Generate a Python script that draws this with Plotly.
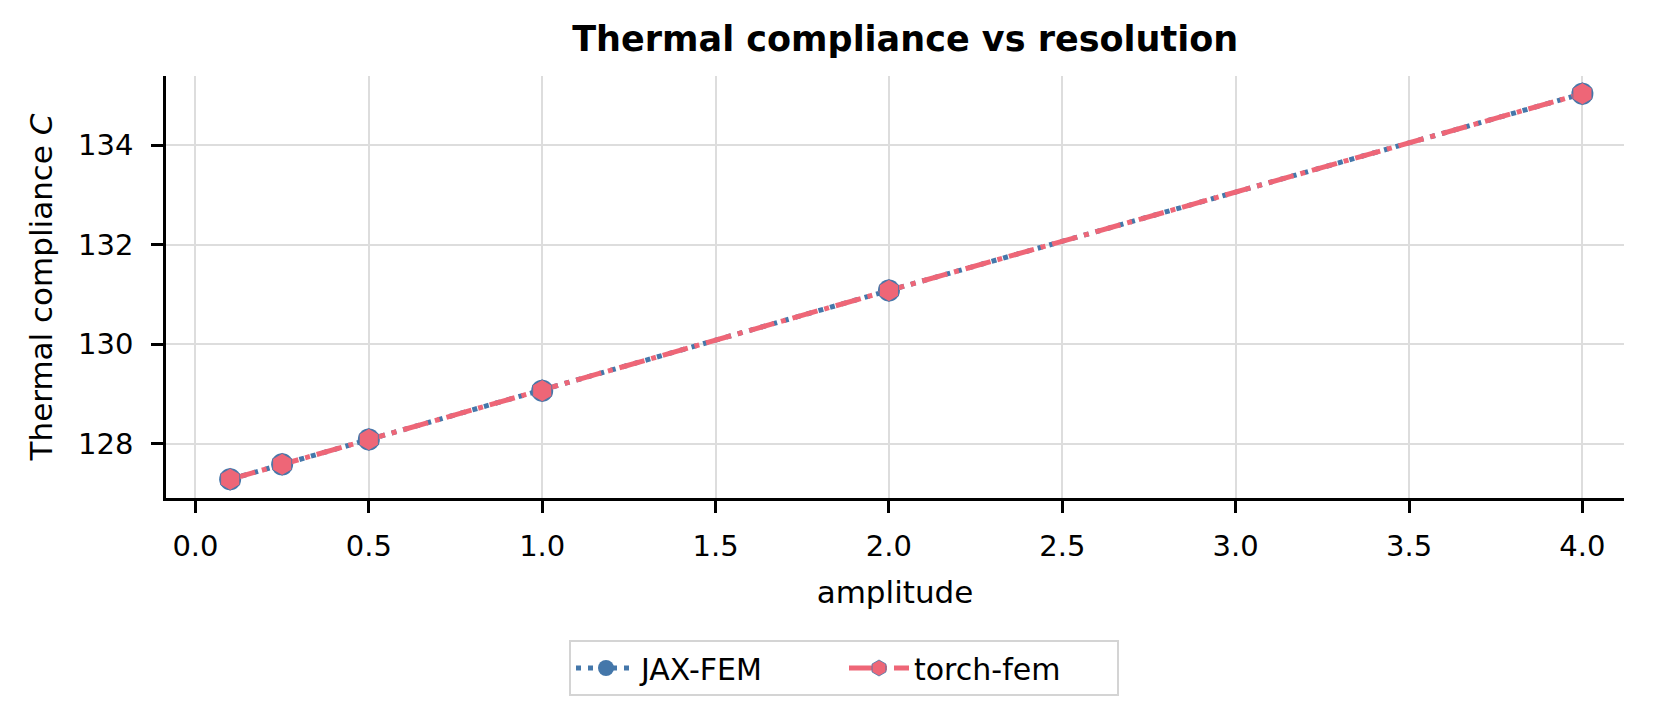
import plotly.graph_objects as go

amplitude = [0.1, 0.25, 0.5, 1.0, 2.0, 4.0]
jax_fem = [127.29, 127.59, 128.09, 129.07, 131.08, 135.03]
torch_fem = [127.29, 127.59, 128.09, 129.07, 131.08, 135.03]

BLUE = "#4477AA"
PINK = "#EE6677"
FONT = "DejaVu Sans"

fig = go.Figure()
fig.add_trace(go.Scatter(
    x=amplitude, y=jax_fem, name="JAX-FEM",
    mode="lines+markers",
    line=dict(color=BLUE, width=5, dash="5px,7px"),
    marker=dict(symbol="circle", size=22, color=BLUE),
))
fig.add_trace(go.Scatter(
    x=amplitude, y=torch_fem, name="torch-fem",
    mode="lines+markers",
    line=dict(color=PINK, width=5, dash="26px,7px,5px,7px"),
    marker=dict(symbol="hexagon", size=22, color=PINK,
                line=dict(width=0.8, color=BLUE)),
))

axis_common = dict(
    showline=True, linecolor="black", linewidth=2.5, mirror=False,
    ticks="outside", ticklen=12, tickwidth=2.5, tickcolor="black",
    showgrid=True, gridcolor="#dddddd", gridwidth=1.5,
    zeroline=False,
    tickfont=dict(family=FONT, size=29, color="black"),
)

fig.update_xaxes(
    **axis_common,
    range=[-0.085, 4.12], tick0=0, dtick=0.5, tickformat=".1f",
    ticklabelstandoff=8,
    title=dict(text="amplitude", standoff=20,
               font=dict(family=FONT, size=31, color="black")),
)
fig.update_yaxes(
    **axis_common,
    range=[126.915, 135.385], tick0=128, dtick=2,
    ticklabelstandoff=12,
    title=dict(text="Thermal compliance <i>C</i>", standoff=17,
               font=dict(family=FONT, size=31, color="black")),
)

fig.update_layout(
    width=1672, height=712,
    paper_bgcolor="white", plot_bgcolor="white",
    margin=dict(l=158, r=56, t=68, b=222),
    title=dict(text="<b>Thermal compliance vs resolution</b>",
               x=0.507, xref="paper", y=1 - 31 / 712, yref="container",
               xanchor="center", yanchor="middle",
               font=dict(family=FONT, size=35, color="black")),
    showlegend=True,
    legend=dict(
        orientation="h", xref="container", yref="container",
        x=0.5, y=1 - 660 / 712, xanchor="center", yanchor="middle",
        bordercolor="#d4d4d4", borderwidth=2, bgcolor="white",
        font=dict(family=FONT, size=30, color="black"),
        entrywidth=198, entrywidthmode="pixels",
        itemwidth=60,
    ),
)

fig.write_html("out.html")
